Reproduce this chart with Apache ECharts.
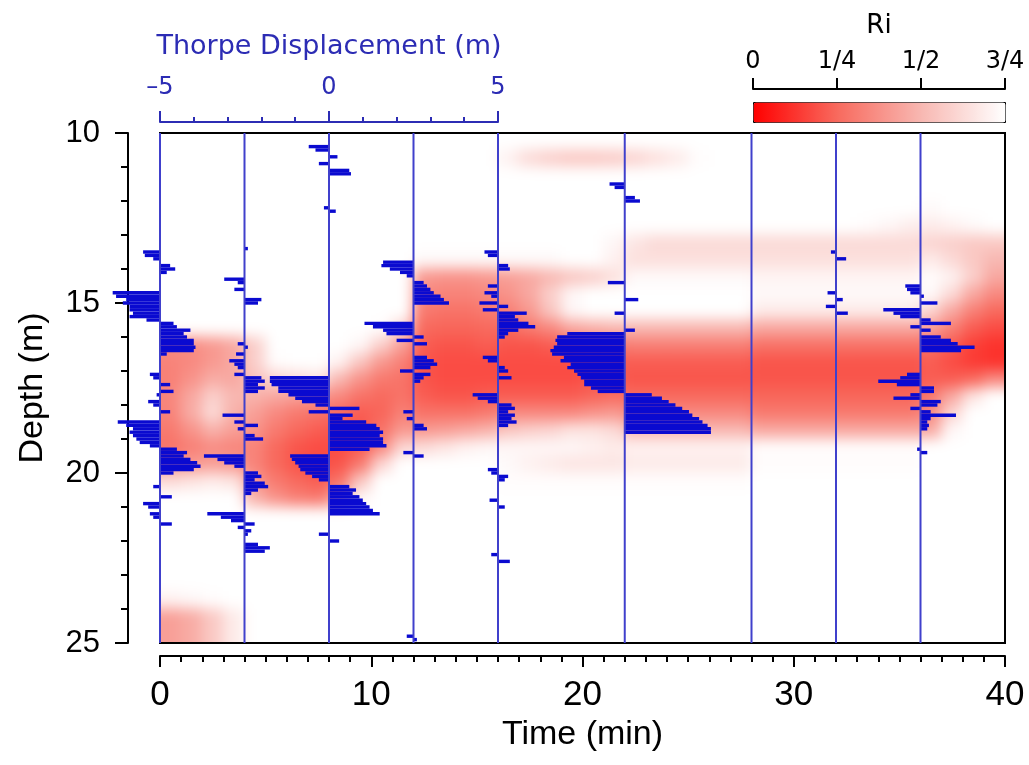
<!DOCTYPE html>
<html>
<head>
<meta charset="utf-8">
<script src="https://cdn.jsdelivr.net/npm/echarts@6/dist/echarts.min.js"></script>
<style>
html,body{margin:0;padding:0;background:#ffffff;}
#stage{position:relative;width:1029px;height:765px;overflow:hidden;}
#heatClip{position:absolute;overflow:hidden;}
#heat{position:absolute;width:1029px;height:765px;filter:blur(7px);}
#chart{position:absolute;left:0;top:0;width:1029px;height:765px;}
</style>
</head>
<body>
<div id="stage">
  <div id="heatClip"><div id="heat"></div></div>
  <div id="chart"></div>
</div>
<script>
// ---- Ri field (Ri x 100), cell centres ----
const riTimes = [0.5,1.5,2.5,3.5,4.5,5.5,6.5,7.5,8.5,9.5,10.5,11.5,12.5,13.5,14.5,15.5,16.5,17.5,18.5,19.5,
                 20.5,21.5,22.5,23.5,24.5,25.5,26.5,27.5,28.5,29.5,30.5,31.5,32.5,33.5,34.5,35.5,36.5,37.5,38.5,39.5];
const riDepths = [10.25,10.75,11.25,11.75,12.25,12.75,13.25,13.75,14.25,14.75,15.25,15.75,16.25,16.75,17.25,
                  17.75,18.25,18.75,19.25,19.75,20.25,20.75,21.25,21.75,22.25,22.75,23.25,23.75,24.25,24.75];
const riRows = [
 [75,75,75,75,75,75,75,75,75,75, 75,75,75,75,75,75,75,75,75,75, 75,75,75,75,75,75,75,75,75,75, 75,75,75,75,75,75,75,75,75,75],
 [75,75,75,75,75,75,75,75,75,75, 75,75,75,75,75,75,70,62,58,56, 56,57,60,64,68,74,75,75,75,75, 75,75,75,75,75,75,75,75,75,75],
 [75,75,75,75,75,75,75,75,75,75, 75,75,75,75,75,75,75,75,75,75, 75,75,75,75,75,75,75,75,75,75, 75,75,75,75,75,75,75,75,75,75],
 [75,75,75,75,75,75,75,75,75,75, 75,75,75,75,75,75,75,75,75,75, 75,75,75,75,75,75,75,75,75,75, 75,75,75,75,75,75,75,75,75,75],
 [75,75,75,75,75,75,75,75,75,75, 75,75,75,75,75,75,75,75,75,75, 75,75,75,75,75,75,75,75,75,75, 75,75,75,75,75,75,73,75,75,75],
 [75,75,75,75,75,75,75,75,75,75, 75,75,75,75,75,75,75,75,75,75, 75,75,75,75,75,75,75,75,75,75, 75,75,75,74,72,69,68,70,73,75],
 [75,75,75,75,75,75,75,75,75,75, 75,75,75,75,75,75,75,75,75,75, 75,72,66,62,62,62,62,62,62,62, 62,62,62,62,62,62,60,58,56,56],
 [75,75,75,75,75,75,75,75,75,75, 75,75,73,73,73,73,73,73,73,75, 75,70,64,64,64,64,64,64,64,64, 64,64,64,64,64,64,68,62,56,50],
 [75,75,75,75,75,75,75,75,75,75, 75,75,40,38,38,40,42,45,50,55, 58,64,73,73,73,73,73,73,71,71, 71,71,71,71,71,71,74,70,58,45],
 [75,75,75,75,75,75,75,75,75,75, 75,75,35,33,33,35,38,45,58,72, 75,75,75,75,75,75,75,75,73,73, 73,73,73,73,73,73,73,62,45,35],
 [75,75,75,75,75,75,75,75,75,75, 75,75,30,28,28,30,32,40,55,72, 75,75,75,75,75,75,75,75,68,68, 68,68,68,68,68,68,60,45,32,25],
 [75,75,75,75,75,75,75,75,75,75, 74,60,25,24,24,25,25,30,35,45, 48,50,50,50,50,50,50,50,45,45, 45,45,45,45,45,45,42,32,22,18],
 [35,36,40,45,58,75,75,75,75,72, 58,42,22,20,20,22,20,20,22,25, 28,30,32,32,32,32,32,32,28,28, 28,28,28,28,28,28,28,22,15,12],
 [33,35,40,45,58,74,75,75,70,55, 40,32,20,18,18,18,18,18,18,18, 20,22,22,22,22,22,22,22,20,20, 20,20,20,20,20,20,22,18,14,12],
 [32,38,46,45,54,60,63,66,50,38, 30,28,20,18,18,18,18,18,18,18, 20,22,20,20,20,20,20,20,20,20, 20,20,20,20,20,20,22,22,25,35],
 [34,45,58,50,48,45,42,40,35,28, 25,28,22,20,20,22,22,22,22,22, 24,26,25,25,25,25,25,25,24,24, 24,24,24,24,24,24,30,45,65,75],
 [33,46,62,48,42,35,30,28,25,22, 24,32,28,28,28,30,35,35,35,35, 38,40,35,35,35,35,35,35,30,30, 30,30,30,30,30,30,35,60,75,75],
 [30,38,48,42,38,30,25,22,20,20, 28,40,40,42,45,48,55,58,60,65, 65,62,50,50,50,50,50,50,45,45, 45,45,45,45,45,45,45,72,75,75],
 [28,32,36,34,33,25,20,18,18,22, 35,60,62,66,70,72,72,72,72,72, 70,68,70,70,70,70,70,70,74,74, 74,74,74,74,74,74,75,75,75,75],
 [38,40,42,40,33,25,20,18,20,30, 60,75,75,75,75,75,73,70,68,66, 66,66,68,68,68,68,68,68,74,74, 74,74,74,74,74,74,75,75,75,75],
 [62,65,68,65,40,30,25,22,28,55, 75,75,75,75,75,75,74,74,74,74, 74,74,74,74,74,74,74,74,75,75, 75,75,75,75,75,75,75,75,75,75],
 [75,75,75,75,48,38,32,30,45,72, 75,75,75,75,75,75,75,75,75,75, 75,75,75,75,75,75,75,75,75,75, 75,75,75,75,75,75,75,75,75,75],
 [75,75,75,75,75,75,75,75,75,75, 75,75,75,75,75,75,75,75,75,75, 75,75,75,75,75,75,75,75,75,75, 75,75,75,75,75,75,75,75,75,75],
 [75,75,75,75,75,75,75,75,75,75, 75,75,75,75,75,75,75,75,75,75, 75,75,75,75,75,75,75,75,75,75, 75,75,75,75,75,75,75,75,75,75],
 [75,75,75,75,75,75,75,75,75,75, 75,75,75,75,75,75,75,75,75,75, 75,75,75,75,75,75,75,75,75,75, 75,75,75,75,75,75,75,75,75,75],
 [75,75,75,75,75,75,75,75,75,75, 75,75,75,75,75,75,75,75,75,75, 75,75,75,75,75,75,75,75,75,75, 75,75,75,75,75,75,75,75,75,75],
 [75,75,75,75,75,75,75,75,75,75, 75,75,75,75,75,75,75,75,75,75, 75,75,75,75,75,75,75,75,75,75, 75,75,75,75,75,75,75,75,75,75],
 [70,72,74,75,75,75,75,75,75,75, 75,75,75,75,75,75,75,75,75,75, 75,75,75,75,75,75,75,75,75,75, 75,75,75,75,75,75,75,75,75,75],
 [42,46,56,68,75,75,75,75,75,75, 75,75,75,75,75,75,75,75,75,75, 75,75,75,75,75,75,75,75,75,75, 75,75,75,75,75,75,75,75,75,75],
 [42,46,56,68,75,75,75,75,75,75, 75,75,75,75,75,75,75,75,75,75, 75,75,75,75,75,75,75,75,75,75, 75,75,75,75,75,75,75,75,75,75]
];
const riTickLabels = ['0', '1/4', '1/2', '3/4'];
const riTickValues = [0, 25, 50, 75];

// ---- Thorpe displacement profiles: [depth (m), displacement (m)] ----
const profileTimes = [0, 4, 8, 12, 16, 22, 28, 32, 36];
const profile0 = [[13.5,-0.5],[13.6,-0.45],[13.7,-0.2],[13.9,0.3],[14.0,0.45],[14.1,0.2],
 [14.7,-1.4],[14.8,-1.3],[14.9,-1.0],[15.0,-1.1],[15.1,-0.9],[15.2,-0.9],[15.3,-0.8],[15.4,-0.9],[15.5,-0.4],
 [15.6,0.4],[15.7,0.5],[15.8,0.9],[15.9,0.7],[16.0,0.8],[16.1,1.0],[16.2,1.0],[16.3,1.05],[16.4,1.0],[16.5,0.2],
 [17.1,-0.3],[17.2,-0.2],[17.4,0.3],[17.6,0.4],[17.7,-0.1],[17.9,-0.35],[18.0,-0.2],[18.2,0.3],
 [18.5,-1.25],[18.6,-1.0],[18.7,-0.8],[18.8,-0.9],[18.9,-0.8],[19.0,-0.7],[19.1,-0.6],[19.2,-0.3],
 [19.3,0.5],[19.4,0.8],[19.5,0.7],[19.6,0.9],[19.7,1.1],[19.8,1.2],[19.9,1.0],[20.0,0.4],
 [20.4,-0.2],[20.7,0.35],[20.9,-0.5],[21.0,-0.35],[21.2,-0.3],[21.3,-0.2],[21.5,0.35]];
const profile4 = [[13.4,0.1],[14.3,-0.6],[14.4,-0.2],[14.6,-0.3],[14.9,0.5],[15.0,0.4],
 [16.2,-0.2],[16.3,0.1],[16.5,-0.25],[16.7,-0.45],[16.8,-0.3],[16.9,-0.2],[17.1,-0.3],[17.2,0.5],[17.3,0.6],[17.4,0.4],[17.5,0.6],[17.6,0.4],
 [18.3,-0.65],[18.5,-0.3],[18.6,0.4],[18.7,-0.2],[18.9,0.3],[19.0,0.55],
 [19.5,-1.2],[19.6,-0.8],[19.7,-0.6],[19.8,-0.3],
 [20.0,0.4],[20.1,0.5],[20.2,0.3],[20.3,0.6],[20.4,0.7],[20.5,0.4],[20.6,0.2],
 [21.2,-1.1],[21.3,-0.7],[21.4,-0.4],[21.5,0.3],[21.6,-0.2],[21.7,0.2],[21.8,0.1],
 [22.1,0.4],[22.2,0.75],[22.3,0.6]];
const profile8 = [[10.4,-0.6],[10.5,-0.4],[10.7,0.25],[10.9,-0.3],[11.1,0.6],[11.2,0.65],[12.2,-0.15],[12.3,0.2],
 [17.2,-1.75],[17.3,-1.75],[17.4,-1.7],[17.5,-1.5],[17.6,-1.5],[17.7,-1.2],[17.8,-1.0],[17.9,-0.8],[18.0,-0.4],
 [18.1,0.9],[18.2,-0.6],[18.3,0.7],[18.4,0.4],
 [18.5,1.1],[18.6,1.4],[18.7,1.5],[18.8,1.6],[18.9,1.5],[19.0,1.6],[19.1,1.6],[19.2,1.7],[19.3,1.2],
 [19.5,-1.15],[19.6,-1.1],[19.7,-1.0],[19.8,-0.9],[19.9,-0.85],[20.0,-0.7],[20.1,-0.5],[20.2,-0.3],
 [20.4,0.6],[20.5,0.8],[20.6,0.7],[20.7,0.9],[20.8,1.0],[20.9,1.1],[21.0,1.2],[21.1,1.3],[21.2,1.5],
 [21.8,-0.3],[22.0,0.3]];
const profile12 = [[13.8,-0.9],[13.9,-0.95],[14.0,-0.7],[14.1,-0.4],[14.2,-0.2],
 [14.4,0.3],[14.5,0.4],[14.6,0.5],[14.7,0.6],[14.8,0.8],[14.9,0.9],[15.0,1.05],
 [15.6,-1.45],[15.7,-1.2],[15.8,-0.9],[15.9,-0.8],[16.0,0.3],[16.1,-0.5],[16.2,0.4],
 [16.6,0.4],[16.7,0.6],[16.8,0.7],[16.9,0.5],[17.0,-0.4],[17.1,0.5],[17.2,0.3],[17.3,0.2],
 [18.2,-0.3],[18.4,-0.2],[18.6,0.3],[18.7,0.4],[19.4,-0.3],[19.5,0.3],[24.8,-0.2],[24.9,0.1]];
const profile16 = [[13.5,-0.4],[13.6,-0.3],[13.9,0.3],[14.0,0.35],[14.5,-0.3],[14.7,-0.4],[14.8,-0.2],
 [15.0,-0.55],[15.1,0.3],[15.2,-0.45],[15.3,0.85],[15.4,0.5],[15.5,0.6],[15.6,0.9],[15.7,1.1],[15.8,0.6],[15.9,0.3],[16.0,0.2],
 [16.6,-0.45],[16.7,-0.3],[16.9,0.2],[17.0,0.3],[17.2,0.4],[17.7,-0.75],[17.8,-0.6],[17.9,-0.3],
 [18.0,0.4],[18.1,0.5],[18.2,0.3],[18.3,0.5],[18.4,0.4],[18.5,0.55],[18.6,0.3],
 [19.9,-0.3],[20.0,-0.2],[20.1,0.3],[20.2,0.2],[20.8,-0.25],[21.0,0.2],[22.4,-0.2],[22.6,0.35]];
const profile22 = [[11.5,-0.45],[11.6,-0.3],[11.9,0.3],[12.0,0.45],[14.4,-0.5],[14.9,0.4],[15.3,-0.3],[15.8,0.3],
 [15.9,-1.7],[16.0,-2.0],[16.1,-2.05],[16.2,-2.0],[16.3,-2.1],[16.4,-2.2],[16.5,-2.15],[16.6,-1.8],[16.7,-1.9],
 [16.8,-1.6],[16.9,-1.7],[17.0,-1.5],[17.1,-1.4],[17.2,-1.3],[17.3,-1.2],[17.4,-1.2],[17.5,-1.0],[17.6,-0.8],
 [17.7,0.8],[17.8,1.1],[17.9,1.3],[18.0,1.5],[18.1,1.7],[18.2,1.9],[18.3,2.0],[18.4,2.2],[18.5,2.3],
 [18.6,2.45],[18.7,2.55],[18.8,2.55]];
const profile28 = [];
const profile32 = [[13.5,-0.15],[13.7,0.3],[14.7,-0.25],[14.9,0.2],[15.1,-0.3],[15.3,0.35]];
const profile36 = [[14.5,-0.45],[14.6,-0.4],[14.7,-0.3],[14.8,0.1],[15.0,0.5],[15.2,-1.1],[15.3,-0.8],[15.4,-0.6],
 [15.5,0.3],[15.6,0.9],[15.7,-0.3],[15.8,0.3],[16.0,0.6],[16.1,0.9],[16.2,1.1],[16.3,1.6],[16.4,1.2],
 [17.1,-0.4],[17.2,-0.6],[17.3,-1.25],[17.4,-0.7],[17.5,0.4],[17.6,0.4],[17.7,-0.3],[17.8,-0.8],
 [17.9,0.6],[18.0,0.5],[18.1,-0.3],[18.2,0.3],[18.3,1.05],[18.4,0.3],[18.5,0.2],[18.6,0.25],[18.7,0.2],
 [19.3,-0.1],[19.4,0.2]];
const profiles = [profile0, profile4, profile8, profile12, profile16, profile22, profile28, profile32, profile36];

// axes
const timeRange = [0, 40];
const depthRange = [10, 25];
const thorpeRange = [-5, 5];
const thorpeTimeSpan = [0, 16];   // the displacement axis spans these minutes of the time axis
const depthStep = 0.1;
const cellHalfT = 0.5, cellHalfD = 0.25;

const minPerMetre = (thorpeTimeSpan[1] - thorpeTimeSpan[0]) / (thorpeRange[1] - thorpeRange[0]);

const heatData = [];
riRows.forEach((row, r) => row.forEach((v, c) => heatData.push([riTimes[c], riDepths[r], v])));

const spikeData = [];
profiles.forEach((p, k) => p.forEach(([d, x]) => spikeData.push([profileTimes[k], d, x])));

const BLUE = '#2c2cb4';
const SPIKE = '#0a0ad0';
const SANS = 'Liberation Sans, Arial, sans-serif';
const WIDE = 'DejaVu Sans, sans-serif';
const RI_COLORS = ['#ff0000', '#f86a5e', '#f8b8b2', '#ffffff'];

const plotLeft = 160, plotTop = 133, plotWidth = 845, plotHeight = 510;
const EDGE_PAD = 24;   // cells on the border are drawn past the plot edge so the softening does not fade them

// clip box for the (softened) Ri layer = plot area
const clip = document.getElementById('heatClip');
clip.style.left = plotLeft + 'px'; clip.style.top = plotTop + 'px';
clip.style.width = plotWidth + 'px'; clip.style.height = plotHeight + 'px';
const heatDiv = document.getElementById('heat');
heatDiv.style.left = (-plotLeft) + 'px'; heatDiv.style.top = (-plotTop) + 'px';

// ---- layer 1: Ri field ----
const heat = echarts.init(heatDiv, null, {renderer: 'canvas'});
heat.setOption({
  animation: false,
  backgroundColor: 'transparent',
  grid: {left: plotLeft, top: plotTop, width: plotWidth, height: plotHeight, show: false},
  xAxis: {type: 'value', min: timeRange[0], max: timeRange[1], show: false},
  yAxis: {type: 'value', min: depthRange[0], max: depthRange[1], inverse: true, show: false},
  visualMap: {type: 'continuous', show: false, seriesIndex: 0, dimension: 2, min: 0, max: 75, inRange: {color: RI_COLORS}},
  series: [{
    type: 'custom', clip: false, silent: true, data: heatData,
    renderItem: (params, api) => {
      const t = api.value(0), d = api.value(1);
      const a = api.coord([t - cellHalfT, d - cellHalfD]);
      const b = api.coord([t + cellHalfT, d + cellHalfD]);
      let x0 = Math.min(a[0], b[0]) - 0.5, x1 = Math.max(a[0], b[0]) + 0.5;
      let y0 = Math.min(a[1], b[1]) - 0.5, y1 = Math.max(a[1], b[1]) + 0.5;
      if (t - cellHalfT <= timeRange[0]) x0 -= EDGE_PAD;
      if (t + cellHalfT >= timeRange[1]) x1 += EDGE_PAD;
      if (d - cellHalfD <= depthRange[0]) y0 -= EDGE_PAD;
      if (d + cellHalfD >= depthRange[1]) y1 += EDGE_PAD;
      return {type: 'rect', shape: {x: x0, y: y0, width: x1 - x0, height: y1 - y0},
              style: {fill: api.visual('color')}};
    }
  }]
});

// ---- layer 2: axes, colour bar, profiles ----
const chart = echarts.init(document.getElementById('chart'), null, {renderer: 'canvas'});
chart.setOption({
  animation: false,
  backgroundColor: 'transparent',
  grid: [
    {left: plotLeft, top: plotTop, width: plotWidth, height: plotHeight, show: true,
     borderColor: '#000', borderWidth: 2, backgroundColor: 'transparent', z: 5},
    {left: plotLeft, top: plotTop, width: plotWidth * (thorpeTimeSpan[1] - thorpeTimeSpan[0]) / (timeRange[1] - timeRange[0]),
     height: plotHeight, show: false},
    {left: 753, top: 102, width: 252, height: 20, show: false}
  ],
  xAxis: [
    {gridIndex: 0, type: 'value', min: timeRange[0], max: timeRange[1], interval: 10, position: 'bottom', offset: 13,
     axisLine: {show: true, onZero: false, lineStyle: {color: '#000', width: 2}},
     axisTick: {show: true, length: 11, lineStyle: {color: '#000', width: 2}},
     minorTick: {show: true, splitNumber: 10, length: 6, lineStyle: {color: '#000', width: 2}},
     splitLine: {show: false},
     axisLabel: {color: '#000', fontSize: 35, fontFamily: SANS, margin: 22},
     name: 'Time (min)', nameLocation: 'middle', nameGap: 60,
     nameTextStyle: {color: '#000', fontSize: 34, fontFamily: SANS}},
    {gridIndex: 1, type: 'value', min: thorpeRange[0], max: thorpeRange[1], interval: 5, position: 'top', offset: 11,
     axisLine: {show: true, onZero: false, lineStyle: {color: BLUE, width: 2}},
     axisTick: {show: true, length: 11, lineStyle: {color: BLUE, width: 2}},
     minorTick: {show: true, splitNumber: 5, length: 5, lineStyle: {color: BLUE, width: 2}},
     splitLine: {show: false},
     axisLabel: {color: BLUE, fontSize: 24, fontFamily: WIDE, margin: 22,
                 formatter: v => v < 0 ? '\u2013' + Math.abs(v) : String(v)},
     name: 'Thorpe Displacement (m)', nameLocation: 'middle', nameGap: 62,
     nameTextStyle: {color: BLUE, fontSize: 27, fontFamily: WIDE}},
    {gridIndex: 2, type: 'value', min: 0, max: 75, interval: 25, position: 'top', offset: 13,
     axisLine: {show: true, onZero: false, lineStyle: {color: '#000', width: 2}},
     axisTick: {show: true, length: 11, lineStyle: {color: '#000', width: 2}},
     splitLine: {show: false},
     axisLabel: {color: '#000', fontSize: 24, fontFamily: WIDE, margin: 15,
                 formatter: v => riTickLabels[riTickValues.indexOf(v)]},
     name: 'Ri', nameLocation: 'middle', nameGap: 50,
     nameTextStyle: {color: '#000', fontSize: 26, fontFamily: WIDE}}
  ],
  yAxis: [
    {gridIndex: 0, type: 'value', min: depthRange[0], max: depthRange[1], interval: 5, inverse: true,
     position: 'left', offset: 32,
     axisLine: {show: true, onZero: false, lineStyle: {color: '#000', width: 2}},
     axisTick: {show: true, length: 13, lineStyle: {color: '#000', width: 2}},
     minorTick: {show: true, splitNumber: 5, length: 7, lineStyle: {color: '#000', width: 2}},
     splitLine: {show: false},
     axisLabel: {color: '#000', fontSize: 31, fontFamily: SANS, margin: 28},
     name: 'Depth (m)', nameLocation: 'middle', nameGap: 78,
     nameTextStyle: {color: '#000', fontSize: 34, fontFamily: SANS}},
    {gridIndex: 1, type: 'value', min: depthRange[0], max: depthRange[1], show: false},
    {gridIndex: 2, type: 'value', min: 0, max: 1, show: false}
  ],
  visualMap: {
    type: 'continuous', seriesIndex: [], min: 0, max: 75, orient: 'horizontal',
    left: 753, top: 102, itemWidth: 20, itemHeight: 252, padding: 0,
    calculable: false, realtime: false, text: null, hoverLink: false,
    borderColor: '#000', borderWidth: 1,
    inRange: {color: RI_COLORS}
  },
  series: [
    {type: 'custom', xAxisIndex: 0, yAxisIndex: 0, z: 9, clip: false, silent: true,
     data: spikeData,
     renderItem: (params, api) => {
       const t0 = api.value(0), d = api.value(1), x = api.value(2);
       const a = api.coord([t0, d - depthStep / 2]);
       const b = api.coord([t0 + x * minPerMetre, d + depthStep / 2]);
       return {type: 'rect',
               shape: {x: Math.min(a[0], b[0]), y: Math.min(a[1], b[1]),
                       width: Math.abs(b[0] - a[0]), height: Math.abs(b[1] - a[1])},
               style: {fill: SPIKE}};
     }},
    {type: 'custom', xAxisIndex: 0, yAxisIndex: 0, z: 10, clip: false, silent: true,
     data: profileTimes.map(t => [t, depthRange[0], depthRange[1]]),
     renderItem: (params, api) => {
       const a = api.coord([api.value(0), api.value(1)]);
       const b = api.coord([api.value(0), api.value(2)]);
       return {type: 'line', shape: {x1: a[0], y1: a[1], x2: b[0], y2: b[1]},
               style: {stroke: '#4040cc', lineWidth: 2}};
     }}
  ]
});
</script>
</body>
</html>
